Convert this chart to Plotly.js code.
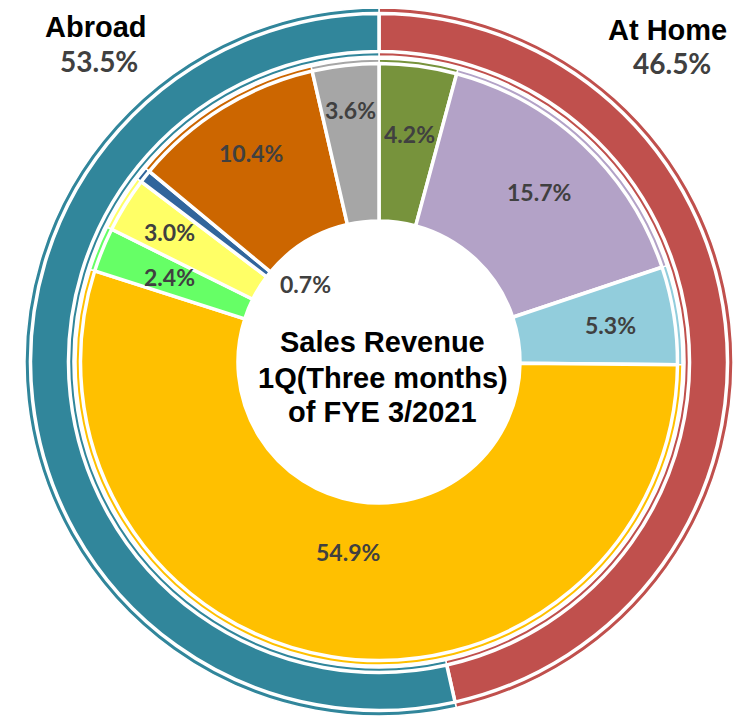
<!DOCTYPE html>
<html><head><meta charset="utf-8">
<script src="https://cdn.plot.ly/plotly-3.0.1.min.js"></script>
<style>html,body{margin:0;padding:0;background:#fff}</style>
</head><body><div id="chart" style="width:735px;height:717px"></div>
<script>
// ---- data ----
const regions = ["At Home", "Abroad"];
const regionShares = [46.5, 53.5];
const regionColors = ["#C0504D", "#31869B"];

const segmentShares = [4.2, 15.7, 5.3, 54.9, 2.4, 3.0, 0.7, 10.4, 3.6];
const segmentColors = ["#77933C", "#B3A2C7", "#92CDDC", "#FFC000", "#66FF66", "#FFFF66", "#31659C", "#CC6600", "#A6A6A6"];

const centerTitle = ["Sales Revenue", "1Q(Three months)", "of FYE 3/2021"];

// ---- layout helpers ----
const W = 735, H = 717, CX = 379, CY = 362;
function dom(r) {
  return { x: [(CX - r) / W, (CX + r) / W], y: [Math.max(0, 1 - (CY + r) / H), Math.min(1, 1 - (CY - r) / H)] };
}
function ring(values, colors, rOut, rIn, lw, names) {
  return {
    type: "pie", values: values, labels: names,
    sort: false, direction: "clockwise", rotation: 0,
    domain: dom(rOut), hole: rIn / rOut,
    marker: { colors: colors, line: { color: "#ffffff", width: lw } },
    textinfo: "none", hoverinfo: "skip", showlegend: false
  };
}
const segNames = segmentShares.map((v, i) => "seg" + i);
const traces = [
  ring(regionShares, regionColors, 354, 306, 1.5, regions),
  ring(regionShares, regionColors, 348.5, 310.5, 3.5, regions),
  ring(segmentShares, segmentColors, 303, 142, 1.5, segNames),
  ring(segmentShares, segmentColors, 298.5, 141, 3.5, segNames)
];

// label placement (radius in px, extra turn in degrees)
const labelRadius = [230, 234, 234, 192, 226, 246, 107, 245, 254];
const labelTurn = [0, 0, 0, 0, 0, 0, 8, 0, 0];
const total = segmentShares.reduce((a, b) => a + b, 0);
const annotations = [];
let cum = 0;
segmentShares.forEach((v, i) => {
  const mid = (cum + v / 2) / total * 360 + labelTurn[i];
  cum += v;
  const a = mid * Math.PI / 180;
  const px = CX + labelRadius[i] * Math.sin(a);
  const py = CY - labelRadius[i] * Math.cos(a);
  annotations.push({
    xref: "paper", yref: "paper", x: px / W, y: 1 - py / H,
    xanchor: "center", yanchor: "middle", showarrow: false,
    text: "<b>" + v.toFixed(1) + "%</b>",
    font: { family: "Lato, 'Noto Sans', sans-serif", size: 23, color: "#404040" }
  });
});
// region labels
const regionPos = { "Abroad": [96, 27, 99, 61], "At Home": [667, 30, 672, 63] };
regions.forEach((r, i) => {
  const p = regionPos[r];
  annotations.push({ xref: "paper", yref: "paper", x: p[0] / W, y: 1 - p[1] / H, xanchor: "center", yanchor: "middle", showarrow: false,
    text: "<b>" + r + "</b>", font: { family: "'Liberation Sans', Arial, sans-serif", size: 29, color: "#000000" } });
  annotations.push({ xref: "paper", yref: "paper", x: p[2] / W, y: 1 - p[3] / H, xanchor: "center", yanchor: "middle", showarrow: false,
    text: "<b>" + regionShares[i].toFixed(1) + "%</b>", font: { family: "Lato, 'Noto Sans', sans-serif", size: 28, color: "#404040" } });
});
// center title
const titleY = [342, 378, 412];
centerTitle.forEach((t, i) => {
  annotations.push({ xref: "paper", yref: "paper", x: 383 / W, y: 1 - titleY[i] / H, xanchor: "center", yanchor: "middle", showarrow: false,
    text: "<b>" + t + "</b>", font: { family: "'Liberation Sans', Arial, sans-serif", size: 29, color: "#000000" } });
});

Plotly.newPlot("chart", traces, {
  width: W, height: H, margin: { l: 0, r: 0, t: 0, b: 0 },
  paper_bgcolor: "#ffffff", plot_bgcolor: "#ffffff",
  annotations: annotations, showlegend: false
}, { staticPlot: true, displayModeBar: false });
</script>
</body></html>
